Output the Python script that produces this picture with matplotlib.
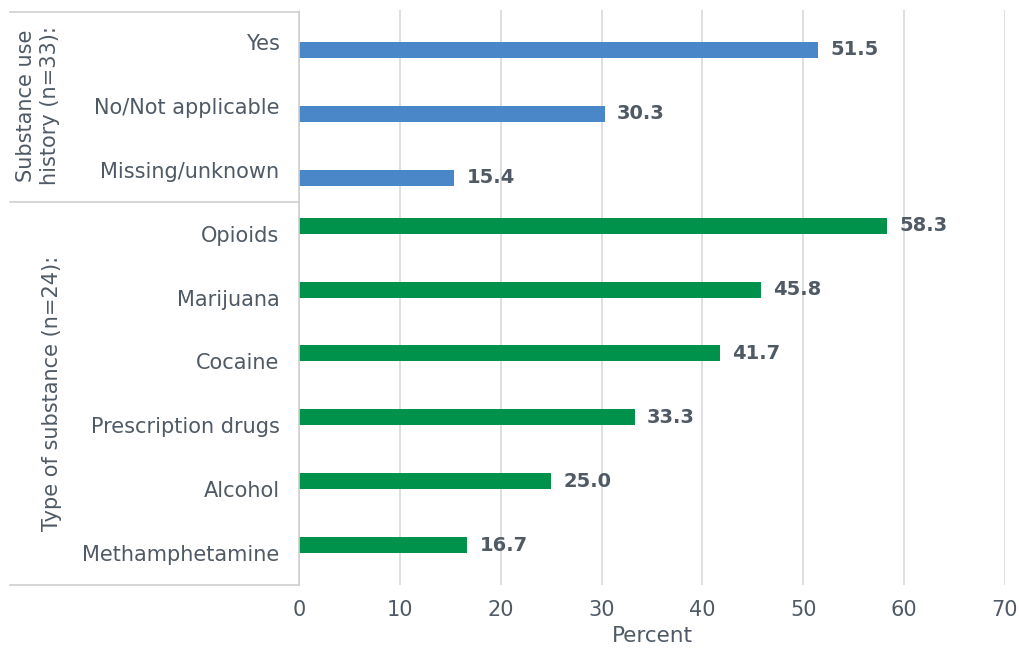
import matplotlib.pyplot as plt
from matplotlib.lines import Line2D
import matplotlib.transforms as mtrans

# data
history_labels = ["Yes", "No/Not applicable", "Missing/unknown"]
history_values = [51.5, 30.3, 15.4]
substance_labels = ["Opioids", "Marijuana", "Cocaine", "Prescription drugs",
                    "Alcohol", "Methamphetamine"]
substance_values = [58.3, 45.8, 41.7, 33.3, 25.0, 16.7]
group_titles = ["Substance use\nhistory (n=33):", "Type of substance (n=24):"]
x_ticks = [0, 10, 20, 30, 40, 50, 60, 70]

blue = "#4A87C9"
green = "#00924A"
txt = "#4F5A65"
grid_c = "#D9D9D9"

plt.rcParams['font.family'] = ['DejaVu Sans']

fig = plt.figure(figsize=(10.19, 6.56), dpi=100)
ax = fig.add_axes([299 / 1019, 1 - 585 / 656, 706 / 1019, 575 / 656])

labels = history_labels + substance_labels
n = len(labels)
pos = list(range(n))
h_pos = pos[:len(history_labels)]
s_pos = pos[len(history_labels):]

bh = 0.25
ax.barh([p + bh / 2 for p in h_pos], history_values, height=bh, color=blue)
ax.barh([p - bh / 2 for p in s_pos], substance_values, height=bh, color=green)

for p, v in zip(h_pos, history_values):
    ax.text(v + 1.2, p + bh / 2, f"{v:.1f}", va="center", ha="left",
            fontsize=14, fontweight="bold", color=txt)
for p, v in zip(s_pos, substance_values):
    ax.text(v + 1.2, p - bh / 2, f"{v:.1f}", va="center", ha="left",
            fontsize=14, fontweight="bold", color=txt)

ax.set_ylim(n - 0.5, -0.5)
ax.set_xlim(0, 70)
ax.set_xticks(x_ticks)
ax.set_xticklabels([str(t) for t in x_ticks], fontsize=15, color=txt)
ax.set_yticks(pos)
ax.set_yticklabels(labels, fontsize=15, color=txt)
ax.tick_params(axis="both", length=0)
ax.tick_params(axis="x", pad=11)
ax.tick_params(axis="y", pad=14)
ax.set_xlabel("Percent", fontsize=15.5, color=txt, labelpad=4)

ax.grid(axis="x", color=grid_c, linewidth=1.2)
ax.set_axisbelow(True)
for s in ax.spines.values():
    s.set_visible(False)

# group box on the left
trans = mtrans.blended_transform_factory(fig.transFigure, ax.transData)
x0 = 10 / 1019
x1 = 299 / 1019
sep = len(history_labels) - 0.5
box_c = "#D0D0D0"
for y in [-0.47, sep, n - 0.5]:
    fig.add_artist(Line2D([x0, x1], [y, y], transform=trans, color=box_c, lw=1.2))
fig.add_artist(Line2D([x1, x1], [-0.47, n - 0.5], transform=trans, color=box_c, lw=1.2))

ax.text(38 / 1019, (h_pos[0] + h_pos[-1]) / 2, group_titles[0], transform=trans,
        rotation=90, ha="center", va="center", fontsize=15, color=txt,
        multialignment="center", linespacing=1.3)
ax.text(52 / 1019, (s_pos[0] + s_pos[-1]) / 2, group_titles[1], transform=trans,
        rotation=90, ha="center", va="center", fontsize=15, color=txt)

fig.savefig("out.png", dpi=100)
